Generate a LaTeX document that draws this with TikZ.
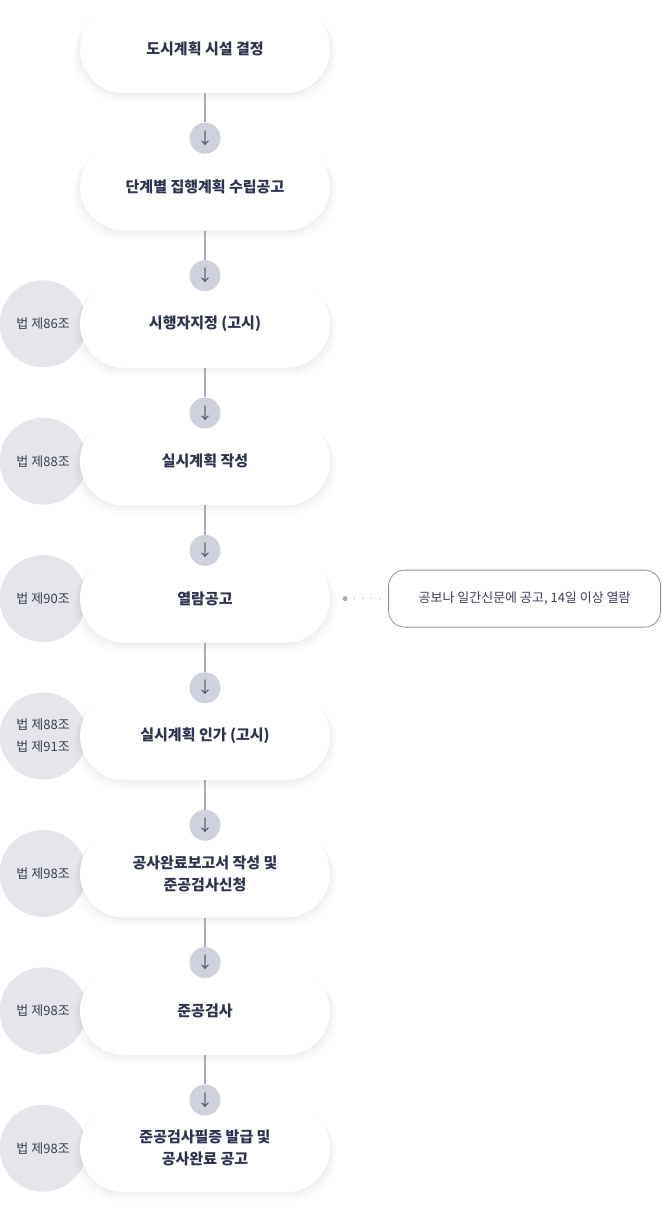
\documentclass[tikz,border=0pt]{standalone}
\usepackage{fontspec}
\setmainfont{Noto Sans CJK KR}
\usetikzlibrary{positioning,shadows,backgrounds}
\definecolor{ink}{HTML}{2E3350}
\definecolor{lawfill}{HTML}{E5E6EB}
\definecolor{lawtext}{HTML}{3C3F55}
\definecolor{arrfill}{HTML}{CFD1DC}
\definecolor{arrtext}{HTML}{4B4F68}
\definecolor{linkc}{HTML}{A7AABA}
\definecolor{notec}{HTML}{8E91A4}
\begin{document}
\begin{tikzpicture}[x=1pt,y=1pt,
pill/.style={rectangle,rounded corners=44pt,fill=white,minimum width=250pt,minimum height=88pt,
  align=center,text=ink,font=\fontsize{15}{22}\selectfont\bfseries,
  general shadow={fill=black,opacity=.015,shadow scale=1.05,shadow yshift=-6pt},
  general shadow={fill=black,opacity=.02,shadow scale=1.03,shadow yshift=-4pt},
  general shadow={fill=black,opacity=.025,shadow scale=1.01,shadow yshift=-2pt}},
law/.style={circle,fill=lawfill,minimum size=87pt,inner sep=0pt,align=center,
  text=lawtext,font=\fontsize{13}{22}\selectfont},
arr/.style={circle,fill=arrfill,minimum size=31pt,inner sep=0pt,
  text=arrtext,font=\fontsize{16}{16}\selectfont},
link/.style={draw=linkc,line width=1.5pt},
note/.style={rectangle,rounded corners=16pt,draw=notec,line width=.8pt,fill=white,
  minimum width=272pt,minimum height=57pt,text=lawtext,font=\fontsize{13}{16}\selectfont}]
\useasboundingbox (0,0) rectangle (661,-1214);
\node [pill] (s1) at (205,-49) {도시계획 시설 결정};
\node [pill,below=49pt of s1] (s2) {단계별 집행계획 수립공고};
\node [pill,below=49pt of s2] (s3) {시행자지정 (고시)};
\node [pill,below=49pt of s3] (s4) {실시계획 작성};
\node [pill,below=49pt of s4] (s5) {열람공고};
\node [pill,below=49pt of s5] (s6) {실시계획 인가 (고시)};
\node [pill,below=49pt of s6] (s7) {공사완료보고서 작성 및\\준공검사신청};
\node [pill,below=49pt of s7] (s8) {준공검사};
\node [pill,below=49pt of s8] (s9) {준공검사필증 발급 및\\공사완료 공고};
\begin{scope}[on background layer]
\node [law,left=-7pt of s3] (l3) {법 제86조};
\node [law,left=-7pt of s4] (l4) {법 제88조};
\node [law,left=-7pt of s5] (l5) {법 제90조};
\node [law,left=-7pt of s6] (l6) {법 제88조\\법 제91조};
\node [law,left=-7pt of s7] (l7) {법 제98조};
\node [law,left=-7pt of s8] (l8) {법 제98조};
\node [law,left=-7pt of s9] (l9) {법 제98조};
\end{scope}
\node [arr] (a2) at ([yshift=4pt]s2.north) {↓};
\node [arr] (a3) at ([yshift=4pt]s3.north) {↓};
\node [arr] (a4) at ([yshift=4pt]s4.north) {↓};
\node [arr] (a5) at ([yshift=4pt]s5.north) {↓};
\node [arr] (a6) at ([yshift=4pt]s6.north) {↓};
\node [arr] (a7) at ([yshift=4pt]s7.north) {↓};
\node [arr] (a8) at ([yshift=4pt]s8.north) {↓};
\node [arr] (a9) at ([yshift=4pt]s9.north) {↓};
\draw [link] (s1.south) -- (a2.north);
\draw [link] (s2.south) -- (a3.north);
\draw [link] (s3.south) -- (a4.north);
\draw [link] (s4.south) -- (a5.north);
\draw [link] (s5.south) -- (a6.north);
\draw [link] (s6.south) -- (a7.north);
\draw [link] (s7.south) -- (a8.north);
\draw [link] (s8.south) -- (a9.north);
\node [note,right=58pt of s5] (n5) {공보나 일간신문에 공고, 14일 이상 열람};
\coordinate [right=15pt of s5] (d5);
\fill [linkc] (d5) circle (2.5pt);
\draw [linkc,line width=1.3pt,line cap=round,dash pattern=on 0pt off 8.5pt]
  ([xshift=9pt]d5) -- (n5.west);
\end{tikzpicture}
\end{document}
